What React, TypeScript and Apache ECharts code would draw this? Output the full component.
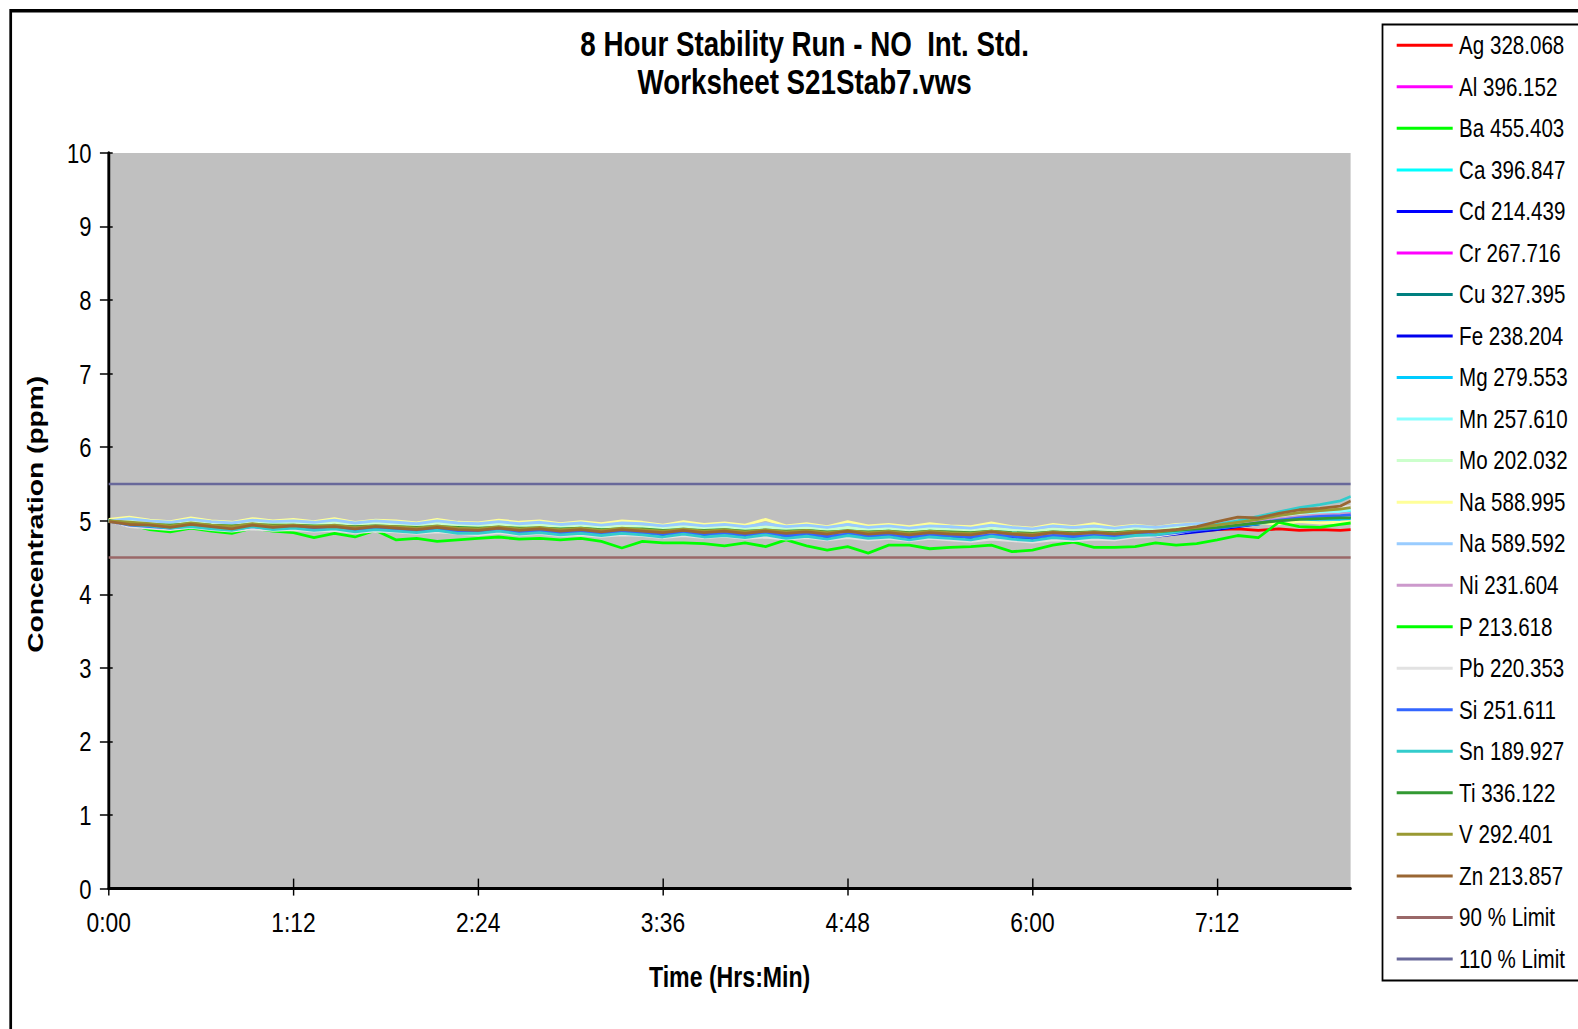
import React, { useEffect, useRef } from "react";
import * as echarts from "echarts";

// ---------- data ----------
const TIMES = [0, 8, 16, 24, 32, 40, 48, 56, 64, 72, 80, 88, 96, 104, 112, 120, 128, 136, 144, 152, 160, 168, 176, 184, 192, 200, 208, 216, 224, 232, 240, 248, 256, 264, 272, 280, 288, 296, 304, 312, 320, 328, 336, 344, 352, 360, 368, 376, 384, 392, 400, 408, 416, 424, 432, 440, 448, 456, 464, 472, 480, 484];
const X_TICKS = [0, 72, 144, 216, 288, 360, 432];

const AG = [5.00,4.96,4.95,4.92,4.95,4.93,4.91,4.94,4.92,4.93, 4.91,4.92,4.90,4.92,4.91,4.89,4.91,4.89,4.88,4.90, 4.88,4.89,4.87,4.88,4.86,4.88,4.87,4.85,4.87,4.85, 4.86,4.84,4.86,4.84,4.85,4.83,4.85,4.83,4.84,4.82, 4.84,4.83,4.82,4.84,4.82,4.81,4.83,4.82,4.83,4.82, 4.84,4.83,4.85,4.86,4.88,4.89,4.87,4.89,4.87,4.88, 4.87,4.88];
const AL = [5.00,4.97,4.96,4.93,4.97,4.94,4.93,4.96,4.93,4.95, 4.93,4.94,4.92,4.94,4.92,4.91,4.93,4.91,4.90,4.92, 4.90,4.91,4.89,4.90,4.88,4.90,4.89,4.87,4.89,4.87, 4.88,4.86,4.88,4.86,4.87,4.85,4.87,4.85,4.86,4.84, 4.86,4.85,4.84,4.86,4.84,4.83,4.85,4.84,4.85,4.84, 4.86,4.85,4.87,4.89,4.91,4.94,4.97,5.01,5.04,5.06, 5.07,5.08];
const BA = [5.00,4.97,4.97,4.94,4.96,4.95,4.93,4.96,4.95,4.95, 4.94,4.94,4.92,4.95,4.93,4.91,4.93,4.92,4.90,4.92, 4.91,4.91,4.90,4.90,4.89,4.90,4.90,4.87,4.89,4.88, 4.88,4.87,4.88,4.86,4.88,4.85,4.87,4.86,4.86,4.85, 4.87,4.85,4.85,4.86,4.85,4.84,4.85,4.85,4.86,4.84, 4.86,4.86,4.87,4.89,4.92,4.94,4.96,5.00,5.02,5.03, 5.04,5.05];
const CA = [5.00,4.98,4.97,4.94,4.98,4.95,4.93,4.97,4.94,4.96, 4.94,4.95,4.92,4.95,4.93,4.91,4.94,4.91,4.90,4.93, 4.90,4.92,4.89,4.91,4.88,4.91,4.89,4.87,4.90,4.87, 4.89,4.86,4.88,4.86,4.87,4.85,4.88,4.85,4.86,4.84, 4.86,4.85,4.84,4.87,4.84,4.83,4.86,4.84,4.85,4.84, 4.87,4.85,4.88,4.90,4.93,4.96,4.99,5.03,5.06,5.08, 5.10,5.12];
const CD = [5.00,4.93,4.91,4.89,4.94,4.90,4.88,4.93,4.88,4.90, 4.88,4.89,4.86,4.88,4.87,4.85,4.88,4.85,4.84,4.86, 4.84,4.85,4.83,4.84,4.82,4.84,4.83,4.80,4.83,4.80, 4.82,4.79,4.82,4.79,4.81,4.77,4.81,4.78,4.80,4.77, 4.80,4.78,4.76,4.80,4.77,4.75,4.79,4.77,4.79,4.78, 4.81,4.80,4.83,4.86,4.90,4.94,4.98,5.02,5.05,5.08, 5.09,5.10];
const CR = [5.00,4.96,4.96,4.92,4.96,4.94,4.92,4.95,4.93,4.94, 4.91,4.93,4.91,4.93,4.92,4.90,4.92,4.89,4.89,4.91, 4.89,4.90,4.87,4.89,4.87,4.89,4.88,4.86,4.88,4.85, 4.87,4.85,4.87,4.84,4.86,4.84,4.86,4.84,4.85,4.83, 4.85,4.83,4.83,4.85,4.83,4.82,4.84,4.82,4.84,4.83, 4.85,4.84,4.86,4.88,4.91,4.94,4.97,5.00,5.03,5.06, 5.07,5.08];
const CU = [5.00,4.96,4.94,4.93,4.95,4.93,4.92,4.94,4.93,4.93, 4.92,4.92,4.91,4.92,4.91,4.90,4.91,4.90,4.89,4.90, 4.89,4.89,4.88,4.89,4.87,4.88,4.88,4.86,4.87,4.86, 4.87,4.85,4.86,4.85,4.86,4.84,4.85,4.84,4.85,4.83, 4.85,4.84,4.83,4.85,4.83,4.82,4.84,4.83,4.84,4.83, 4.85,4.84,4.86,4.88,4.90,4.93,4.96,4.99,5.01,5.03, 5.04,5.05];
const FE = [5.00,4.93,4.92,4.88,4.92,4.89,4.87,4.91,4.88,4.89, 4.87,4.89,4.86,4.87,4.86,4.84,4.86,4.84,4.83,4.85, 4.83,4.84,4.82,4.83,4.81,4.83,4.82,4.79,4.82,4.79, 4.81,4.78,4.80,4.78,4.80,4.76,4.79,4.77,4.79,4.75, 4.79,4.77,4.75,4.78,4.76,4.74,4.78,4.76,4.78,4.77, 4.80,4.79,4.82,4.85,4.88,4.92,4.96,5.00,5.03,5.05, 5.07,5.08];
const MG = [5.00,4.95,4.94,4.91,4.95,4.92,4.90,4.94,4.91,4.92, 4.90,4.92,4.89,4.91,4.89,4.88,4.90,4.88,4.86,4.89, 4.86,4.88,4.85,4.87,4.84,4.87,4.85,4.83,4.86,4.83, 4.85,4.82,4.85,4.82,4.84,4.81,4.84,4.81,4.83,4.80, 4.83,4.81,4.80,4.83,4.80,4.79,4.82,4.80,4.82,4.80, 4.83,4.82,4.85,4.88,4.90,4.93,4.96,4.99,5.01,5.02, 5.02,5.03];
const MN = [5.00,4.99,4.98,4.95,4.99,4.96,4.95,4.98,4.95,4.97, 4.95,4.96,4.94,4.96,4.95,4.93,4.95,4.93,4.92,4.94, 4.92,4.93,4.91,4.92,4.90,4.92,4.91,4.89,4.91,4.89, 4.90,4.88,4.90,4.88,4.89,4.87,4.89,4.87,4.88,4.86, 4.88,4.87,4.86,4.88,4.86,4.85,4.87,4.86,4.87,4.86, 4.88,4.87,4.89,4.91,4.94,4.97,5.00,5.04,5.07,5.10, 5.13,5.15];
const MO = [5.00,5.00,4.98,4.97,5.00,4.97,4.96,4.99,4.97,4.98, 4.96,4.98,4.95,4.97,4.96,4.94,4.97,4.94,4.93,4.96, 4.93,4.95,4.92,4.94,4.91,4.93,4.92,4.90,4.93,4.90, 4.92,4.89,4.92,4.89,4.91,4.88,4.91,4.88,4.90,4.87, 4.90,4.88,4.87,4.90,4.88,4.86,4.89,4.87,4.89,4.87, 4.90,4.88,4.91,4.93,4.95,4.98,5.01,5.04,5.07,5.08, 5.09,5.10];
const NA588 = [5.02,5.05,5.01,4.99,5.04,5.00,4.98,5.03,5.00,5.02, 4.99,5.03,4.98,5.01,5.00,4.97,5.02,4.98,4.97,5.01, 4.98,5.00,4.96,4.99,4.96,5.00,4.98,4.94,4.99,4.95, 4.97,4.94,5.02,4.93,4.96,4.92,4.99,4.93,4.95,4.92, 4.96,4.93,4.92,4.97,4.92,4.90,4.95,4.92,4.96,4.91, 4.94,4.91,4.95,4.96,4.97,4.98,4.97,4.96,4.99,4.97, 4.98,4.99];
const NA589 = [5.00,5.03,5.00,4.98,5.02,4.99,4.97,5.01,4.99,5.00, 4.98,5.01,4.97,5.00,4.98,4.96,5.00,4.97,4.96,4.99, 4.96,4.98,4.95,4.97,4.94,4.97,4.96,4.93,4.96,4.93, 4.95,4.92,4.96,4.92,4.94,4.91,4.95,4.91,4.93,4.90, 4.93,4.92,4.90,4.94,4.91,4.89,4.93,4.91,4.93,4.90, 4.93,4.91,4.94,4.96,4.97,4.99,5.00,5.02,5.04,5.05, 5.06,5.07];
const NI = [5.00,4.95,4.93,4.92,4.94,4.92,4.90,4.93,4.91,4.92, 4.90,4.91,4.89,4.91,4.90,4.88,4.90,4.88,4.87,4.89, 4.87,4.88,4.86,4.87,4.85,4.87,4.86,4.84,4.86,4.84, 4.85,4.83,4.85,4.83,4.84,4.82,4.84,4.82,4.83,4.81, 4.83,4.82,4.81,4.83,4.81,4.80,4.82,4.81,4.82,4.81, 4.84,4.84,4.86,4.89,4.92,4.96,5.00,5.03,5.06,5.08, 5.09,5.10];
const P = [5.00,4.95,4.88,4.85,4.90,4.86,4.83,4.90,4.86,4.84, 4.77,4.83,4.78,4.87,4.74,4.76,4.72,4.74,4.76,4.78, 4.75,4.76,4.74,4.76,4.72,4.63,4.72,4.70,4.70,4.69, 4.66,4.70,4.65,4.74,4.66,4.60,4.65,4.56,4.67,4.67, 4.62,4.64,4.65,4.67,4.58,4.60,4.67,4.71,4.64,4.64, 4.65,4.70,4.67,4.69,4.74,4.80,4.77,4.98,4.92,4.91, 4.95,4.97];
const PB = [5.00,4.92,4.90,4.88,4.91,4.88,4.86,4.89,4.87,4.88, 4.86,4.87,4.84,4.86,4.85,4.83,4.85,4.83,4.81,4.84, 4.81,4.83,4.80,4.81,4.79,4.81,4.80,4.77,4.80,4.77, 4.79,4.76,4.78,4.75,4.77,4.74,4.77,4.74,4.76,4.73, 4.76,4.74,4.72,4.75,4.73,4.71,4.74,4.73,4.75,4.74, 4.78,4.79,4.83,4.88,4.94,4.99,5.04,5.09,5.13,5.16, 5.18,5.20];
const SI = [5.00,4.94,4.92,4.90,4.93,4.91,4.88,4.92,4.89,4.91, 4.89,4.90,4.87,4.89,4.88,4.86,4.88,4.86,4.85,4.87, 4.85,4.86,4.84,4.85,4.83,4.85,4.84,4.82,4.84,4.82, 4.83,4.81,4.83,4.80,4.82,4.79,4.82,4.80,4.81,4.78, 4.81,4.80,4.78,4.81,4.79,4.77,4.80,4.79,4.80,4.79, 4.82,4.81,4.84,4.87,4.90,4.93,4.97,5.01,5.04,5.06, 5.07,5.08];
const SN = [5.00,4.95,4.93,4.90,4.92,4.89,4.87,4.92,4.88,4.90, 4.87,4.89,4.85,4.88,4.86,4.84,4.87,4.83,4.83,4.86, 4.82,4.84,4.81,4.83,4.80,4.83,4.81,4.78,4.82,4.78, 4.80,4.77,4.81,4.76,4.79,4.75,4.80,4.76,4.78,4.74, 4.78,4.76,4.74,4.79,4.75,4.73,4.77,4.75,4.78,4.76, 4.80,4.81,4.85,4.90,4.95,5.00,5.06,5.12,5.18,5.22, 5.27,5.33];
const TI = [5.00,4.97,4.95,4.94,4.96,4.94,4.93,4.95,4.94,4.94, 4.93,4.93,4.92,4.93,4.92,4.91,4.92,4.91,4.90,4.91, 4.90,4.90,4.89,4.90,4.88,4.89,4.89,4.87,4.88,4.87, 4.88,4.86,4.87,4.86,4.87,4.85,4.86,4.85,4.86,4.84, 4.86,4.85,4.84,4.86,4.84,4.83,4.85,4.84,4.85,4.84, 4.86,4.85,4.87,4.89,4.91,4.94,4.97,5.00,5.02,5.03, 5.04,5.04];
const V = [5.00,4.98,4.96,4.93,4.97,4.94,4.92,4.96,4.93,4.94, 4.92,4.94,4.91,4.93,4.92,4.90,4.93,4.90,4.89,4.92, 4.89,4.91,4.88,4.90,4.87,4.90,4.88,4.86,4.89,4.86, 4.88,4.85,4.88,4.85,4.87,4.84,4.87,4.84,4.86,4.83, 4.86,4.84,4.83,4.86,4.83,4.82,4.85,4.83,4.85,4.83, 4.86,4.85,4.88,4.91,4.94,4.98,5.02,5.07,5.11,5.14, 5.16,5.18];
const ZN = [4.99,4.95,4.94,4.91,4.95,4.92,4.89,4.94,4.91,4.93, 4.91,4.92,4.89,4.92,4.90,4.88,4.91,4.88,4.87,4.90, 4.87,4.89,4.86,4.88,4.85,4.88,4.86,4.84,4.87,4.84, 4.86,4.83,4.86,4.83,4.85,4.82,4.86,4.82,4.84,4.81, 4.84,4.82,4.81,4.85,4.82,4.80,4.84,4.82,4.84,4.82, 4.84,4.86,4.88,4.92,4.99,5.05,5.04,5.10,5.15,5.17, 5.20,5.27];

const LIMIT_TIMES = [0, 484];
const LIMIT_90 = [4.5, 4.5];
const LIMIT_110 = [5.5, 5.5];

const SERIES_NAMES = ["Ag 328.068", "Al 396.152", "Ba 455.403", "Ca 396.847", "Cd 214.439", "Cr 267.716", "Cu 327.395", "Fe 238.204", "Mg 279.553", "Mn 257.610", "Mo 202.032", "Na 588.995", "Na 589.592", "Ni 231.604", "P 213.618", "Pb 220.353", "Si 251.611", "Sn 189.927", "Ti 336.122", "V 292.401", "Zn 213.857"];
const SERIES_VALUES = [AG, AL, BA, CA, CD, CR, CU, FE, MG, MN, MO, NA588, NA589, NI, P, PB, SI, SN, TI, V, ZN];
const LIMIT_NAMES = ["90 % Limit", "110 % Limit"];

// ---------- styles ----------
const SERIES_COLORS = ["#FF0000", "#FF00FF", "#00FF00", "#00FFFF", "#0000FF", "#FF00FF", "#008080", "#0000EE", "#00CCFF", "#88FFFF", "#CCFFCC", "#FFFF99", "#99CCFF", "#CC99CC", "#00FF00", "#E2E2E2", "#3366FF", "#33CCCC", "#339933", "#999933", "#996633"];
const LIMIT_COLORS = ["#9A6868", "#68689A"];

const SANS = "'Liberation Sans', Arial, sans-serif";
// the reference picture is horizontally condensed; the chart is drawn wider and squeezed by S
const S = 0.8;
const CHART_W = 1975;
const CHART_H = 1029;

const fmtTime = (v: number) => `${Math.floor(v / 60)}:${String(Math.round(v % 60)).padStart(2, "0")}`;

export default function App() {
  const ref = useRef<HTMLDivElement>(null);

  useEffect(() => {
    document.body.style.margin = "0";
    const chart = echarts.init(ref.current!, null, { renderer: "svg" });

    const lineSeries: any[] = SERIES_NAMES.map((name, k) => ({
      name,
      type: "line",
      data: TIMES.map((t, i) => [t, SERIES_VALUES[k][i]]),
      color: SERIES_COLORS[k],
      lineStyle: { width: 2.8, color: SERIES_COLORS[k] },
      symbol: "none",
      showSymbol: false,
      smooth: false,
    }));
    const limitSeries: any[] = [LIMIT_90, LIMIT_110].map((vals, k) => ({
      name: LIMIT_NAMES[k],
      type: "line",
      data: LIMIT_TIMES.map((t, i) => [t, vals[i]]),
      color: LIMIT_COLORS[k],
      lineStyle: { width: 2.5, color: LIMIT_COLORS[k] },
      symbol: "none",
      showSymbol: false,
    }));

    const gridLeft = 108.7 / S;
    const gridW = 1241.9 / S;
    const gridTop = 153;
    const gridH = 735.6;

    const option: any = {
      animation: false,
      backgroundColor: "#ffffff",
      title: {
        text: "8 Hour Stability Run - NO  Int. Std.",
        subtext: "Worksheet S21Stab7.vws",
        left: 804.6 / S,
        textAlign: "center",
        top: 0,
        padding: [25, 0, 0, 0],
        itemGap: 0,
        textStyle: { fontFamily: SANS, fontSize: 34.7, fontWeight: "bold", color: "#000", lineHeight: 38 },
        subtextStyle: { fontFamily: SANS, fontSize: 34.7, fontWeight: "bold", color: "#000", lineHeight: 38 },
      },
      legend: {
        orient: "vertical",
        left: 1396.7 / S,
        top: 32.3,
        padding: 0,
        itemGap: 15.53,
        itemWidth: 56 / S,
        itemHeight: 3,
        icon: "rect",
        selectedMode: false,
        textStyle: { fontFamily: SANS, fontSize: 25.7, color: "#000", lineHeight: 26, padding: [0, 0, 0, 3] },
        data: [...SERIES_NAMES, ...LIMIT_NAMES],
      },
      grid: {
        left: gridLeft,
        top: gridTop,
        width: gridW,
        height: gridH,
        show: true,
        backgroundColor: "#C0C0C0",
        borderWidth: 0,
        containLabel: false,
        outerBoundsMode: "none",
      },
      xAxis: [
        {
          type: "value",
          min: 0,
          max: 484,
          interval: 72,
          position: "bottom",
          name: "Time (Hrs:Min)",
          nameLocation: "middle",
          nameGap: 73.5,
          nameMoveOverlap: false,
          nameTextStyle: { fontFamily: SANS, fontSize: 28.9, fontWeight: "bold", color: "#000", lineHeight: 29 },
          axisLine: { show: true, onZero: false, lineStyle: { color: "#000", width: 3 } },
          axisTick: { show: true, inside: false, length: 7, lineStyle: { color: "#000", width: 1.8 }, customValues: X_TICKS },
          axisLabel: { show: true, margin: 19, fontFamily: SANS, fontSize: 28.5, color: "#000", lineHeight: 28, formatter: fmtTime, customValues: X_TICKS },
          splitLine: { show: false },
        },
        {
          type: "value",
          min: 0,
          max: 484,
          interval: 72,
          position: "bottom",
          axisLine: { show: false },
          axisTick: { show: true, inside: true, length: 10, lineStyle: { color: "#000", width: 1.8 }, customValues: X_TICKS },
          axisLabel: { show: false },
          splitLine: { show: false },
        },
      ],
      yAxis: [
        {
          type: "value",
          min: 0,
          max: 10,
          interval: 1,
          position: "left",
          name: "Concentration (ppm)",
          nameLocation: "middle",
          nameRotate: 90,
          nameGap: 77.5,
          nameMoveOverlap: false,
          nameTextStyle: { fontFamily: SANS, fontSize: 28.2, fontWeight: "bold", color: "#000", padding: [0, 0, 0, 13] },
          axisLine: { show: true, onZero: false, lineStyle: { color: "#000", width: 3.6 } },
          axisTick: { show: true, inside: false, length: 11, lineStyle: { color: "#000", width: 1.5 } },
          axisLabel: { show: true, margin: 21.5, fontFamily: SANS, fontSize: 27.5, color: "#000" },
          splitLine: { show: false },
        },
        {
          type: "value",
          min: 0,
          max: 10,
          interval: 1,
          position: "left",
          axisLine: { show: false },
          axisTick: { show: true, inside: true, length: 5, lineStyle: { color: "#000", width: 1.5 } },
          axisLabel: { show: false },
          splitLine: { show: false },
        },
      ],
      graphic: [
        {
          type: "rect",
          silent: true,
          shape: { x: 10.7 / S, y: 10.7, width: 3000, height: 2000 },
          style: { fill: "none", stroke: "#000", lineWidth: 3.4 },
        },
        {
          type: "rect",
          silent: true,
          shape: { x: 1382.5 / S, y: 24.5, width: 400, height: 956 },
          style: { fill: "none", stroke: "#000", lineWidth: 2.2 },
        },
      ],
      series: [...lineSeries, ...limitSeries],
    };

    chart.setOption(option);
    return () => chart.dispose();
  }, []);

  return (
    <div style={{ width: 1578, height: 1029, overflow: "hidden", position: "relative" }}>
      <div
        ref={ref}
        style={{ width: CHART_W, height: CHART_H, transform: `scaleX(${S})`, transformOrigin: "0 0" }}
      />
    </div>
  );
}
